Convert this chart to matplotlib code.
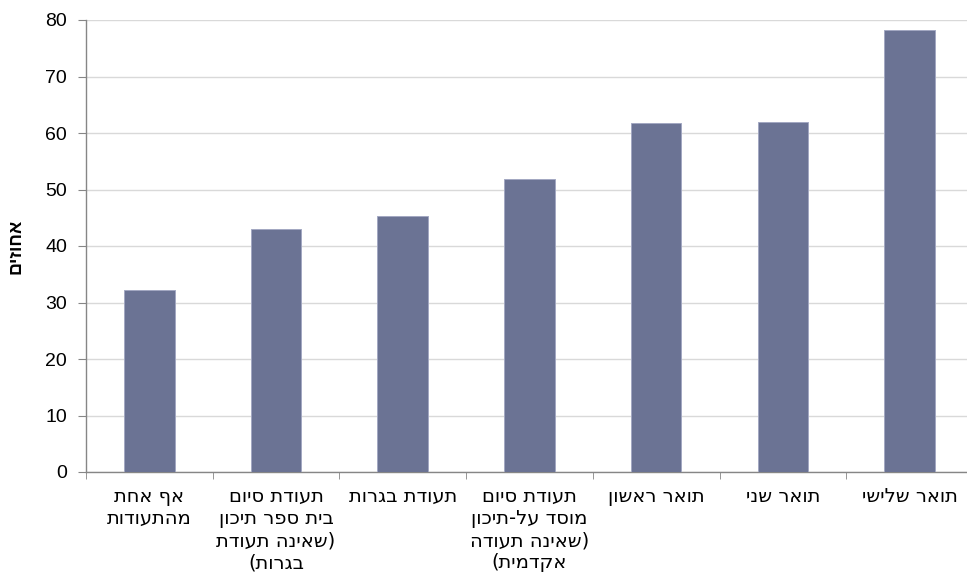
import matplotlib.pyplot as plt
import numpy as np

# Data (logical Hebrew order)
categories = [
    "אף אחת\nמהתעודות",
    "תעודת סיום\nבית ספר תיכון\n(שאינה תעודת\nבגרות)",
    "תעודת בגרות",
    "תעודת סיום\nמוסד על-תיכון\n(שאינה תעודה\nאקדמית)",
    "תואר ראשון",
    "תואר שני",
    "תואר שלישי",
]
values = [32.2, 43.0, 45.3, 51.9, 61.7, 62.0, 78.3]
y_ticks = [0, 10, 20, 30, 40, 50, 60, 70, 80]
y_label = "אחוזים"

BAR_COLOR = '#6B7394'
GRID_COLOR = '#D9D9D9'
AXIS_COLOR = '#868686'

MIRROR = {'(': ')', ')': '('}


def visual(text):
    """Logical RTL text -> left-to-right visual order (reverse each line, mirror brackets)."""
    lines = []
    for line in text.split('\n'):
        lines.append(''.join(MIRROR.get(ch, ch) for ch in reversed(line)))
    return '\n'.join(lines)


fig = plt.figure(figsize=(9.67, 5.83), dpi=100)
W, H = 967, 583
left, right, top, bottom = 86, 86 + 7 * 126.7, 20, 472
ax = fig.add_axes([left / W, (H - bottom) / H, (right - left) / W, (bottom - top) / H])

x = np.arange(len(values))
ax.bar(x, values, width=0.4, color=BAR_COLOR, edgecolor='#A3A8C2', linewidth=0.7, zorder=3)

ax.set_xlim(-0.5, len(values) - 0.5)
ax.set_ylim(0, 80)
ax.set_yticks(y_ticks)
ax.yaxis.grid(True, color=GRID_COLOR, linewidth=1.0, zorder=0)
ax.set_axisbelow(True)

for side in ['top', 'right']:
    ax.spines[side].set_visible(False)
for side in ['left', 'bottom']:
    ax.spines[side].set_color(AXIS_COLOR)
    ax.spines[side].set_linewidth(1.0)

ax.tick_params(axis='y', length=5.5, color=AXIS_COLOR, pad=8, labelsize=14)
for lbl in ax.get_yticklabels():
    lbl.set_family(['Liberation Sans', 'DejaVu Sans'])

# category labels at centres, tick marks at boundaries
ax.set_xticks(x)
ax.set_xticklabels([visual(c) for c in categories], family=['DejaVu Sans'],
                   fontsize=14, linespacing=1.2, ha='center', va='top')
ax.tick_params(axis='x', which='major', length=0, pad=11)
ax.set_xticks(np.arange(-0.5, len(values), 1.0), minor=True)
ax.tick_params(axis='x', which='minor', length=5, color=AXIS_COLOR)

ax.set_ylabel(visual(y_label), family=['Liberation Sans', 'DejaVu Sans'],
              fontsize=13, fontweight='bold', labelpad=15)

fig.savefig('out.png', dpi=100)
